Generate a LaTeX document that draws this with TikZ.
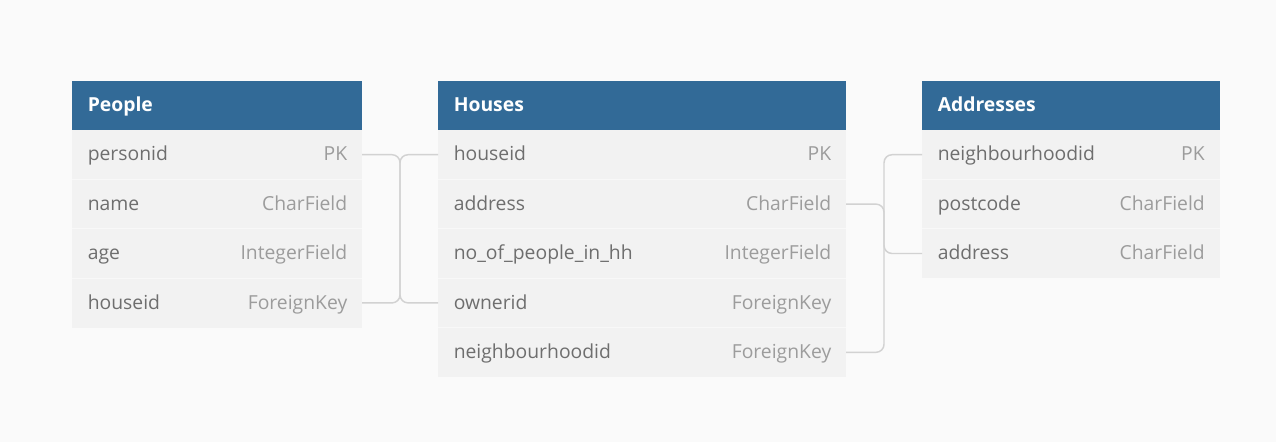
\documentclass[tikz,border=0pt]{standalone}
\usepackage{fontspec}
\setmainfont{Open Sans}
\usetikzlibrary{calc}
\definecolor{bgc}{HTML}{FAFAFA}
\definecolor{hdrc}{HTML}{326A97}
\definecolor{rowc}{HTML}{F2F2F2}
\definecolor{sepc}{HTML}{F8F8F8}
\definecolor{namec}{HTML}{6E6E6E}
\definecolor{typec}{HTML}{9C9C9C}
\definecolor{connc}{HTML}{D2D2D2}
\tikzset{
  hdr/.style={rectangle, fill=hdrc, inner sep=0pt, outer sep=0pt, anchor=north west, minimum height=49*0.75pt},
  rowbox/.style={rectangle, fill=rowc, inner sep=0pt, outer sep=0pt, anchor=north west, minimum height=49.4*0.75pt},
  hdrtext/.style={anchor=mid west, inner sep=0pt, yshift=-1.9pt, text=white, font=\fontsize{14.5}{17}\selectfont\bfseries},
  fname/.style={anchor=mid west, inner sep=0pt, yshift=-1.9pt, text=namec, font=\fontsize{14.5}{17}\selectfont},
  ftype/.style={anchor=mid east, inner sep=0pt, yshift=-1.9pt, text=typec, font=\fontsize{14.5}{17}\selectfont},
  sepline/.style={draw=sepc, line width=0.75pt},
  conn/.style={draw=connc, line width=1.1pt, rounded corners=6pt}
}
\begin{document}
\begin{tikzpicture}[x=0.75pt,y=-0.75pt]
\fill[bgc] (0,0) rectangle (1276,442);
\useasboundingbox (0,0) rectangle (1276,442);

% People
\node[hdr, minimum width=290*0.75pt] (ph) at (72,81) {};
\node[hdrtext] (pht) at ($(ph.west)+(15.5,0)$) {People};
\node[rowbox, minimum width=290*0.75pt] (p1) at (72,130) {};
\node[rowbox, minimum width=290*0.75pt] (p2) at (72,179.4) {};
\node[rowbox, minimum width=290*0.75pt] (p3) at (72,228.8) {};
\node[rowbox, minimum width=290*0.75pt] (p4) at (72,278.2) {};
\draw[sepline] (p2.north west) -- (p2.north east);
\draw[sepline] (p3.north west) -- (p3.north east);
\draw[sepline] (p4.north west) -- (p4.north east);
\node[fname] (p1n) at ($(p1.west)+(15.5,0)$) {personid};
\node[ftype] (p1t) at ($(p1.east)+(-14.5,0)$) {PK};
\node[fname] (p2n) at ($(p2.west)+(15.5,0)$) {name};
\node[ftype] (p2t) at ($(p2.east)+(-14.5,0)$) {CharField};
\node[fname] (p3n) at ($(p3.west)+(15.5,0)$) {age};
\node[ftype] (p3t) at ($(p3.east)+(-14.5,0)$) {IntegerField};
\node[fname] (p4n) at ($(p4.west)+(15.5,0)$) {houseid};
\node[ftype] (p4t) at ($(p4.east)+(-14.5,0)$) {ForeignKey};

% Houses
\node[hdr, minimum width=408*0.75pt] (hh) at (438,81) {};
\node[hdrtext] (hht) at ($(hh.west)+(15.5,0)$) {Houses};
\node[rowbox, minimum width=408*0.75pt] (h1) at (438,130) {};
\node[rowbox, minimum width=408*0.75pt] (h2) at (438,179.4) {};
\node[rowbox, minimum width=408*0.75pt] (h3) at (438,228.8) {};
\node[rowbox, minimum width=408*0.75pt] (h4) at (438,278.2) {};
\node[rowbox, minimum width=408*0.75pt] (h5) at (438,327.6) {};
\draw[sepline] (h2.north west) -- (h2.north east);
\draw[sepline] (h3.north west) -- (h3.north east);
\draw[sepline] (h4.north west) -- (h4.north east);
\draw[sepline] (h5.north west) -- (h5.north east);
\node[fname] (h1n) at ($(h1.west)+(15.5,0)$) {houseid};
\node[ftype] (h1t) at ($(h1.east)+(-14.5,0)$) {PK};
\node[fname] (h2n) at ($(h2.west)+(15.5,0)$) {address};
\node[ftype] (h2t) at ($(h2.east)+(-14.5,0)$) {CharField};
\node[fname] (h3n) at ($(h3.west)+(15.5,0)$) {no\_of\_people\_in\_hh};
\node[ftype] (h3t) at ($(h3.east)+(-14.5,0)$) {IntegerField};
\node[fname] (h4n) at ($(h4.west)+(15.5,0)$) {ownerid};
\node[ftype] (h4t) at ($(h4.east)+(-14.5,0)$) {ForeignKey};
\node[fname] (h5n) at ($(h5.west)+(15.5,0)$) {neighbourhoodid};
\node[ftype] (h5t) at ($(h5.east)+(-14.5,0)$) {ForeignKey};

% Addresses
\node[hdr, minimum width=298*0.75pt] (ah) at (922,81) {};
\node[hdrtext] (aht) at ($(ah.west)+(15.5,0)$) {Addresses};
\node[rowbox, minimum width=298*0.75pt] (a1) at (922,130) {};
\node[rowbox, minimum width=298*0.75pt] (a2) at (922,179.4) {};
\node[rowbox, minimum width=298*0.75pt] (a3) at (922,228.8) {};
\draw[sepline] (a2.north west) -- (a2.north east);
\draw[sepline] (a3.north west) -- (a3.north east);
\node[fname] (a1n) at ($(a1.west)+(15.5,0)$) {neighbourhoodid};
\node[ftype] (a1t) at ($(a1.east)+(-15,0)$) {PK};
\node[fname] (a2n) at ($(a2.west)+(15.5,0)$) {postcode};
\node[ftype] (a2t) at ($(a2.east)+(-15,0)$) {CharField};
\node[fname] (a3n) at ($(a3.west)+(15.5,0)$) {address};
\node[ftype] (a3t) at ($(a3.east)+(-15,0)$) {CharField};

% connectors
\draw[conn] (p1.east) -| ($(p1.east)!0.5!(h4.west)$) |- (h4.west);
\draw[conn] (p4.east) -| ($(p4.east)!0.5!(h1.west)$) |- (h1.west);
\draw[conn] (h2.east) -| ($(h2.east)!0.5!(a3.west)$) |- (a3.west);
\draw[conn] (h5.east) -| ($(h5.east)!0.5!(a1.west)$) |- (a1.west);
\end{tikzpicture}
\end{document}
